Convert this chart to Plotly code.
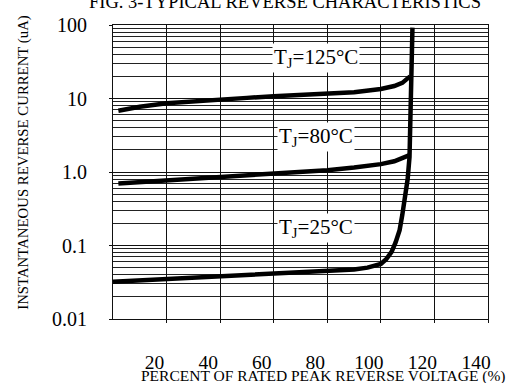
import plotly.graph_objects as go

# ---- data ----
x_tick_values = [20, 40, 60, 80, 100, 120, 140]
x_tick_labels = ["20", "40", "60", "80", "100", "120", "140"]
y_tick_values = [0.01, 0.1, 1, 10, 100]
y_tick_labels = ["0.01", "0.1", "1.0", "10", "100"]

v_125 = [2, 10, 20, 30, 40, 50, 60, 70, 80, 90, 100, 105, 108, 110, 110.9]
i_125 = [6.8, 7.7, 8.6, 9.2, 9.75, 10.2, 10.7, 11.1, 11.5, 12.2, 13.5, 14.8, 16.3, 18.3, 20.0]

v_80 = [2, 10, 20, 30, 40, 50, 60, 70, 80, 90, 100, 105, 109, 110.7]
i_80 = [0.70, 0.73, 0.76, 0.80, 0.84, 0.88, 0.93, 0.99, 1.06, 1.15, 1.28, 1.40, 1.58, 1.70]

v_25 = [0, 10, 20, 30, 40, 50, 60, 70, 80, 90, 95, 100, 102, 104, 105.5, 107, 108,
        109, 110, 110.7, 111.3, 111.8]
i_25 = [0.0322, 0.0335, 0.0347, 0.0362, 0.0377, 0.039, 0.0406, 0.042, 0.044, 0.047,
        0.050, 0.056, 0.065, 0.082, 0.11, 0.162, 0.26, 0.42, 0.8, 1.6, 15, 92]

labels = ["T<sub>J</sub>=125°C", "T<sub>J</sub>=80°C", "T<sub>J</sub>=25°C"]

SERIF = "Liberation Serif, Times New Roman, serif"

fig = go.Figure()
for v, i in [(v_125, i_125), (v_80, i_80), (v_25, i_25)]:
    fig.add_trace(go.Scatter(x=v, y=i, mode="lines",
                             line=dict(color="black", width=4.5),
                             hoverinfo="skip"))

minor_vals = [m * 10 ** e for e in range(-2, 2) for m in range(2, 10)]

fig.update_layout(
    width=515, height=383,
    margin=dict(l=113, r=27, t=25, b=64),
    paper_bgcolor="white", plot_bgcolor="white",
    showlegend=False,
    title=dict(text="FIG. 3-TYPICAL REVERSE CHARACTERISTICS",
               font=dict(family=SERIF, size=18.5, color="black"),
               x=285 / 515, xanchor="center", xref="container",
               y=0.997, yanchor="middle", yref="container"),
    xaxis=dict(range=[0, 140], tickmode="array", tickvals=x_tick_values,
               ticktext=x_tick_labels, showgrid=True, gridcolor="#111",
               gridwidth=1, zeroline=False, showline=True, linecolor="#111",
               linewidth=1, mirror=True, ticks="outside", ticklen=3,
               tickcolor="#111", automargin=False,
               tickfont=dict(family=SERIF, size=19.5, color="black"),
               ticklabelstandoff=23, ticklabelshift=-12),
    yaxis=dict(type="log", range=[-2, 2], tickmode="array",
               tickvals=y_tick_values, ticktext=y_tick_labels,
               showgrid=True, gridcolor="#111", gridwidth=1, zeroline=False,
               showline=True, linecolor="#111", linewidth=1, mirror=True,
               ticks="outside", ticklen=3, tickcolor="#111", automargin=False,
               tickfont=dict(family=SERIF, size=20, color="black"),
               ticklabelstandoff=18,
               minor=dict(tickmode="array", tickvals=minor_vals, showgrid=True,
                          gridcolor="#222", gridwidth=1, ticks="")),
)

label_pos = [(75.7, 1.55), (75.7, 0.47), (75.7, -0.765)]
for txt, (lx, ly) in zip(labels, label_pos):
    fig.add_annotation(x=lx, y=ly, xref="x", yref="y", text=txt, showarrow=False,
                       font=dict(family=SERIF, size=21, color="black"),
                       bgcolor="white", borderpad=1,
                       xanchor="center", yanchor="middle")

fig.add_annotation(x=0.559, y=-0.194, xref="paper", yref="paper",
                   text="PERCENT OF RATED PEAK REVERSE VOLTAGE (%)",
                   showarrow=False, xanchor="center", yanchor="middle",
                   font=dict(family=SERIF, size=15.5, color="black"))
fig.add_annotation(x=-0.2395, y=0.532, xref="paper", yref="paper",
                   text="INSTANTANEOUS REVERSE CURRENT (uA)", textangle=-90,
                   showarrow=False, xanchor="center", yanchor="middle",
                   font=dict(family=SERIF, size=14.8, color="black"))

fig.write_html("out.html", config={"displayModeBar": False},
               post_script="document.body.style.margin='0px';document.body.style.overflow='hidden';")
